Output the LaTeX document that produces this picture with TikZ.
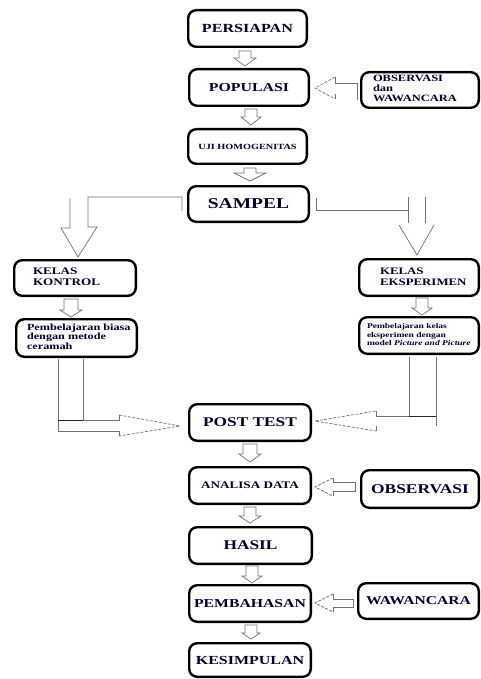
\documentclass[tikz,border=0pt]{standalone}
\usepackage{fontspec}
\setmainfont{Liberation Serif}[FakeStretch=1.3]
\usetikzlibrary{calc}
\newcommand\fs[2]{\fontsize{#1}{#2}\selectfont}
\newcommand\lefttext[3]{\makebox[#1][l]{\hspace*{#2}\begin{tabular}{@{}l@{}}#3\end{tabular}}}
\tikzset{
  box/.style={draw=black, line width=2.4pt, rounded corners=8pt, inner sep=0pt, font=\bfseries, text=black!85!blue},
  blk/.style={draw=black!55, line width=0.7pt},
  blkd/.style={draw=black!55, line width=0.7pt, dash pattern=on 3pt off 1.5pt},
  stemdark/.style={draw=black!85, line width=1pt},
}
% #1 from, #2 to, #3 x offset, #4 top gap, #5 tip gap, #6 stem half, #7 head half, #8 head length
\newcommand\downblk[8]{%
  \draw[blk] let \p1=(#1.south), \p2=(#2.north) in
  ({\x1+(#3pt)-#6pt},{\y1-#4pt}) -- ({\x1+(#3pt)-#6pt},{\y2+#5pt+#8pt}) --
  ({\x1+(#3pt)-#7pt},{\y2+#5pt+#8pt}) -- ({\x1+(#3pt)},{\y2+#5pt}) --
  ({\x1+(#3pt)+#7pt},{\y2+#5pt+#8pt}) -- ({\x1+(#3pt)+#6pt},{\y2+#5pt+#8pt}) --
  ({\x1+(#3pt)+#6pt},{\y1-#4pt}) -- cycle;}
\begin{document}
\begin{tikzpicture}[x=1pt,y=-1pt]
\useasboundingbox (0,0) rectangle (481,679);
% nodes
\node[box, minimum width=118.6pt, minimum height=36.6pt] (persiapan) at (247.5,28.5) {\fs{12.4}{14}PERSIAPAN};
\node[box, minimum width=119.6pt, minimum height=36.6pt] (populasi) at (249,87.5) {\fs{12.2}{14}POPULASI};
\node[box, minimum width=117.6pt, minimum height=35.6pt] (obswaw) at (420,90) {\fs{9.6}{10}\lefttext{117.6pt}{11.8pt}{OBSERVASI\\dan\\WAWANCARA}};
\node[box, minimum width=118.6pt, minimum height=34.6pt] (uji) at (247.5,146.5) {\fs{7.9}{9}UJI HOMOGENITAS};
\node[box, minimum width=120.6pt, minimum height=35.6pt] (sampel) at (248.5,204) {\fs{15}{17}SAMPEL};
\node[box, minimum width=121.6pt, minimum height=35.6pt] (kontrol) at (75,278) {\fs{10.1}{11}\lefttext{121.6pt}{18.8pt}{KELAS\\KONTROL}};
\node[box, minimum width=119.6pt, minimum height=36.6pt] (eksperimen) at (419,277.5) {\fs{9.9}{11.5}\lefttext{119.6pt}{20.8pt}{KELAS\\EKSPERIMEN}};
\node[box, minimum width=120.6pt, minimum height=37.6pt] (biasa) at (76.5,338) {\fs{9.4}{9.7}\lefttext{120.6pt}{10.8pt}{Pembelajaran biasa\\dengan metode\\ceramah}};
\node[box, minimum width=119.6pt, minimum height=36.6pt] (pbeksp) at (419,335.5) {\fs{7.3}{8.5}\lefttext{119.6pt}{7.8pt}{Pembelajaran kelas\\eksperimen dengan\\model \textit{Picture and Picture}}};
\node[box, minimum width=121.6pt, minimum height=36.6pt] (posttest) at (250,422.5) {\fs{13.3}{15}POST TEST};
\node[box, minimum width=121.6pt, minimum height=36.6pt] (analisa) at (250,485.5) {\fs{10.1}{12}ANALISA DATA};
\node[box, minimum width=117.6pt, minimum height=37.6pt] (observasi) at (420,489) {\fs{13.4}{15}OBSERVASI};
\node[box, minimum width=122.6pt, minimum height=36.6pt] (hasil) at (250.5,545.5) {\fs{13.3}{15}HASIL};
\node[box, minimum width=121.6pt, minimum height=36.6pt] (pembahasan) at (250,603.5) {\fs{12.1}{14}PEMBAHASAN};
\node[box, minimum width=120.6pt, minimum height=35.6pt] (wawancara) at (418.5,601) {\fs{12}{14}WAWANCARA};
\node[box, minimum width=121.6pt, minimum height=33.6pt] (kesimpulan) at (250,660) {\fs{12.3}{14}KESIMPULAN};
% vertical block arrows
\downblk{persiapan}{populasi}{-2.5}{3}{2}{6}{11}{8}
\downblk{populasi}{uji}{2}{2}{3}{6}{10}{8}
\downblk{uji}{sampel}{2.5}{3}{4}{6}{16}{8}
\downblk{kontrol}{biasa}{-4}{2}{1}{7}{11}{7}
\downblk{eksperimen}{pbeksp}{3}{1}{1}{6}{10}{7}
\downblk{posttest}{analisa}{0}{2}{4}{7}{11}{8}
\downblk{analisa}{hasil}{0}{2}{3}{6}{11}{7}
\downblk{hasil}{pembahasan}{1.5}{1}{1}{6}{10}{7}
\downblk{pembahasan}{kesimpulan}{1}{2}{3}{6}{9}{6}
% split from SAMPEL to the left
\draw[blk] ($(sampel.west)+(-5,7)$) -- ++(0,-14) -- ++(-94,0) -- ++(0,30) -- ++(9,0)
  -- ($(kontrol.north)+(3,-2)$) -- ++(-17,-29) -- ++(9,0) -- ++(0,-30);
% split from SAMPEL to the right
\draw[blk] ($(sampel.east)+(6,-6)$) -- ++(0,12) -- ++(92,0) ++(0,-13) -- ++(0,26) ++(17,-26) -- ++(0,26);
\draw[blk] ($(eksperimen.north)+(-20,-33)$) -- ($(eksperimen.north)+(-2,-3)$) -- ($(eksperimen.north)+(15,-33)$);
% OBSERVASI dan WAWANCARA -> POPULASI
\coordinate (t10) at ($(populasi.east)+(5,0.5)$);
\draw[blkd] ($(t10)+(20,-11)$) -- (t10) -- ($(t10)+(20,11)$);
\draw[blk] ($(t10)+(20,-11)$) -- ++(0,6) -- ($(obswaw.west)+(-3,-7)$) -- ++(0,17);
\draw[blk] ($(t10)+(20,11)$) -- ++(0,-5);
% Pembelajaran biasa -> POST TEST
\coordinate (pl) at ($(posttest.west)+(-8,3.5)$);
\draw[blk] ($(biasa.south)+(-18.5,1)$) -- ++(0,72) -- ++(61,0) -- ++(0,5);
\draw[blk] ($(biasa.south)+(6.5,1)$) -- ++(0,61) -- ++(36,0) -- ++(0,-5);
\draw[stemdark] ($(biasa.south)+(-18.5,62)$) -- ++(25,0);
\draw[blkd] ($(biasa.south)+(42.5,57)$) -- (pl) -- ($(biasa.south)+(42.5,78)$);
% Pembelajaran eksperimen -> POST TEST
\coordinate (pr) at ($(posttest.east)+(3,-1.5)$);
\draw[blk] ($(pbeksp.south)+(-10,2)$) -- ++(0,59) -- ++(-33,0) -- ++(0,-5);
\draw[blk] ($(pbeksp.south)+(17,2)$) -- ++(0,69);
\draw[stemdark] ($(pbeksp.south)+(-10,61)$) -- ++(27,0);
\draw[blkd] ($(pbeksp.south)+(-43,56)$) -- (pr) -- ($(pbeksp.south)+(-43,76)$);
\draw[blk] ($(pbeksp.south)+(-43,76)$) -- ++(0,-5);
% OBSERVASI -> ANALISA DATA
\coordinate (t11) at ($(analisa.east)+(3,1.5)$);
\draw[blkd] ($(t11)+(18,-9)$) -- (t11) -- ($(t11)+(18,9)$);
\draw[blk] ($(t11)+(18,-9)$) -- ($(t11)+(18,-5)$) -- ($(observasi.west)+(-5,-7)$) -- ($(observasi.west)+(-5,2)$) -- ($(t11)+(18,4)$) -- ($(t11)+(18,9)$);
% WAWANCARA -> PEMBAHASAN
\coordinate (t12) at ($(pembahasan.east)+(3,-0.5)$);
\draw[blkd] ($(t12)+(18,-9)$) -- (t12) -- ($(t12)+(18,9)$);
\draw[blk] ($(t12)+(18,-9)$) -- ($(t12)+(18,-4)$) -- ($(wawancara.west)+(-4,-2)$) -- ($(wawancara.west)+(-4,6)$) -- ($(t12)+(18,4)$) -- ($(t12)+(18,9)$);
\end{tikzpicture}
\end{document}
